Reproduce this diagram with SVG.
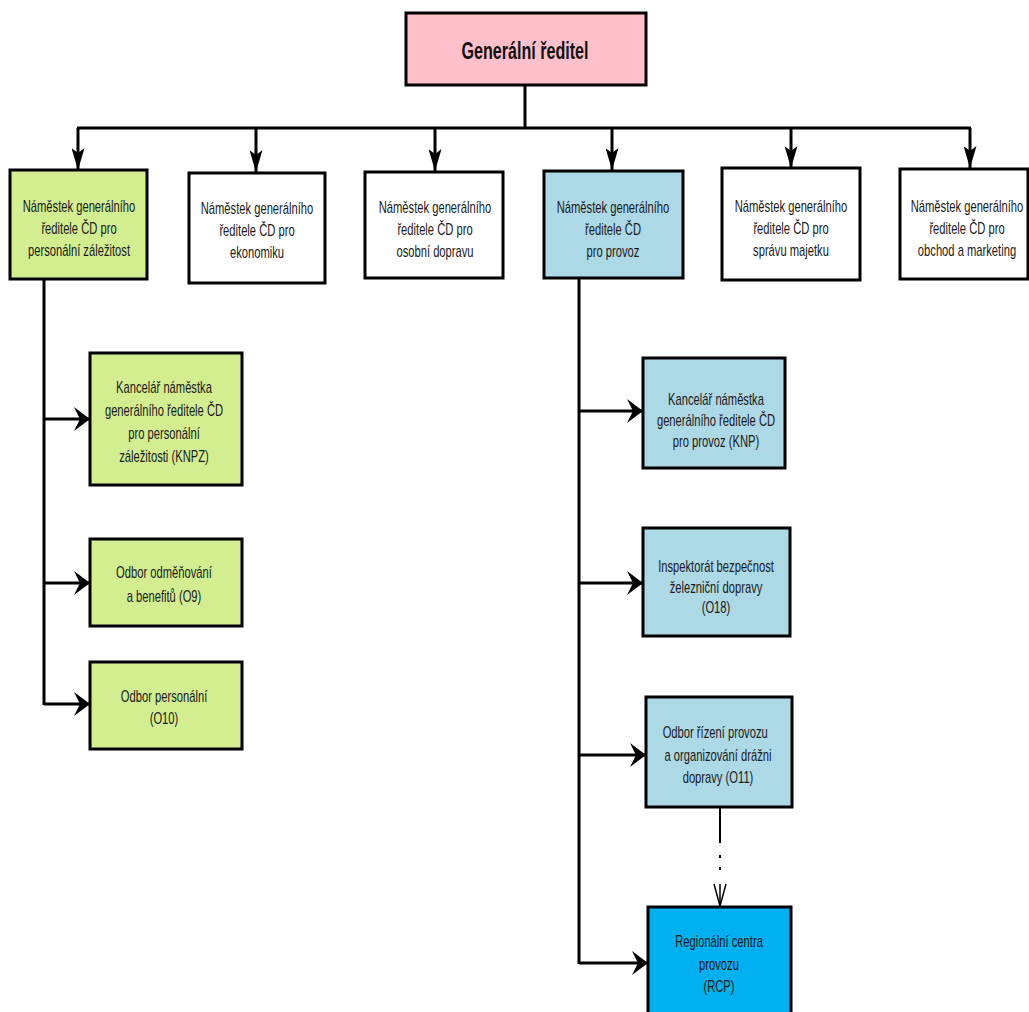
<svg xmlns="http://www.w3.org/2000/svg" width="1029" height="1012" viewBox="0 0 1029 1012">
<style>
.box{stroke:#000;stroke-width:3}
.w{fill:#ffffff}
.pk{fill:#ffc0cb}
.gr{fill:#d3ed91}
.lb{fill:#add8e6}
.bb{fill:#00b0f0}
.t{font-family:"Liberation Sans",Arial,sans-serif;font-size:16px;fill:#1a1a1a;text-anchor:middle}
.tb{font-family:"Liberation Sans",Arial,sans-serif;font-size:23px;font-weight:bold;fill:#111;text-anchor:middle}
.ln{stroke:#000;stroke-width:3;fill:none}
</style>
<defs>
<marker id="ah" markerUnits="userSpaceOnUse" viewBox="0 0 16 24" refX="16" refY="12" markerWidth="16" markerHeight="24" orient="auto">
<path d="M0,0 L16,12 L0,24 L6,12 z" fill="#000"/>
</marker>
<marker id="av" markerUnits="userSpaceOnUse" viewBox="0 0 22 13" refX="22" refY="6.5" markerWidth="22" markerHeight="13" orient="auto">
<path d="M0,0 L22,6.5 L0,13 L5,6.5 z" fill="#000"/>
</marker>
</defs>
<rect width="1029" height="1012" fill="#fff"/>

<g id="connectors">
<line class="ln" x1="525" y1="85" x2="525" y2="128"/>
<line class="ln" x1="77" y1="128" x2="971" y2="128"/>
<line class="ln" x1="78" y1="128" x2="78" y2="170" marker-end="url(#av)"/>
<line class="ln" x1="256" y1="128" x2="256" y2="172" marker-end="url(#av)"/>
<line class="ln" x1="435" y1="128" x2="435" y2="171" marker-end="url(#av)"/>
<line class="ln" x1="612" y1="128" x2="612" y2="170" marker-end="url(#av)"/>
<line class="ln" x1="791" y1="128" x2="791" y2="168" marker-end="url(#av)"/>
<line class="ln" x1="970" y1="128" x2="970" y2="168" marker-end="url(#av)"/>
<line class="ln" x1="44" y1="279" x2="44" y2="705"/>
<line class="ln" x1="44" y1="419" x2="90" y2="419" marker-end="url(#ah)"/>
<line class="ln" x1="44" y1="583" x2="90" y2="583" marker-end="url(#ah)"/>
<line class="ln" x1="44" y1="704" x2="90" y2="704" marker-end="url(#ah)"/>
<line class="ln" x1="579" y1="278" x2="579" y2="964"/>
<line class="ln" x1="579" y1="411" x2="643" y2="411" marker-end="url(#ah)"/>
<line class="ln" x1="579" y1="583" x2="643" y2="583" marker-end="url(#ah)"/>
<line class="ln" x1="579" y1="755" x2="646" y2="755" marker-end="url(#ah)"/>
<line class="ln" x1="579" y1="963" x2="648" y2="963" marker-end="url(#ah)"/>
<line x1="720" y1="807" x2="720" y2="843" stroke="#000" stroke-width="2"/>
<line x1="720" y1="855" x2="720" y2="872" stroke="#000" stroke-width="2" stroke-dasharray="3,9"/>
<line x1="720" y1="884" x2="720" y2="906" stroke="#000" stroke-width="1.5"/>
<polyline points="714,884 720,906 726,884" fill="none" stroke="#000" stroke-width="1.5"/>
</g>

<g id="n-gr">
<rect class="box pk" x="406" y="13" width="240" height="72"/>
<text class="tb" transform="translate(525,59) scale(0.7,1)">Generální ředitel</text>
</g>

<g id="n-personal">
<rect class="box gr" x="10" y="170" width="137" height="109"/>
<text class="t" transform="translate(79,212) scale(0.7,1)"><tspan x="0">Náměstek generálního</tspan><tspan x="0" dy="22">ředitele ČD pro</tspan><tspan x="0" dy="22">personální záležitost</tspan></text>
</g>

<g id="n-ekonomika">
<rect class="box w" x="189" y="173" width="136" height="110"/>
<text class="t" transform="translate(257,214) scale(0.7,1)"><tspan x="0">Náměstek generálního</tspan><tspan x="0" dy="22">ředitele ČD pro</tspan><tspan x="0" dy="22">ekonomiku</tspan></text>
</g>

<g id="n-osobni">
<rect class="box w" x="365" y="172" width="138" height="106"/>
<text class="t" transform="translate(435,213) scale(0.7,1)"><tspan x="0">Náměstek generálního</tspan><tspan x="0" dy="22">ředitele ČD pro</tspan><tspan x="0" dy="22">osobní dopravu</tspan></text>
</g>

<g id="n-provoz">
<rect class="box lb" x="544" y="171" width="139" height="107"/>
<text class="t" transform="translate(613,213) scale(0.7,1)"><tspan x="0">Náměstek generálního</tspan><tspan x="0" dy="22">ředitele ČD</tspan><tspan x="0" dy="22">pro provoz</tspan></text>
</g>

<g id="n-majetek">
<rect class="box w" x="722" y="168" width="138" height="112"/>
<text class="t" transform="translate(791,212) scale(0.7,1)"><tspan x="0">Náměstek generálního</tspan><tspan x="0" dy="22">ředitele ČD pro</tspan><tspan x="0" dy="22">správu majetku</tspan></text>
</g>

<g id="n-obchod">
<rect class="box w" x="900" y="169" width="128" height="110"/>
<text class="t" transform="translate(967,212) scale(0.7,1)"><tspan x="0">Náměstek generálního</tspan><tspan x="0" dy="22">ředitele ČD pro</tspan><tspan x="0" dy="22">obchod a marketing</tspan></text>
</g>

<g id="n-knpz">
<rect class="box gr" x="90" y="353" width="152" height="132"/>
<text class="t" transform="translate(164,393) scale(0.7,1)"><tspan x="0">Kancelář náměstka</tspan><tspan x="0" dy="23">generálního ředitele ČD</tspan><tspan x="0" dy="23">pro personální</tspan><tspan x="0" dy="23">záležitosti (KNPZ)</tspan></text>
</g>

<g id="n-o9">
<rect class="box gr" x="90" y="539" width="152" height="87"/>
<text class="t" transform="translate(164,578) scale(0.7,1)"><tspan x="0">Odbor odměňování</tspan><tspan x="0" dy="24">a benefitů (O9)</tspan></text>
</g>

<g id="n-o10">
<rect class="box gr" x="90" y="662" width="152" height="87"/>
<text class="t" transform="translate(164,702) scale(0.7,1)"><tspan x="0">Odbor personální</tspan><tspan x="0" dy="22">(O10)</tspan></text>
</g>

<g id="n-knp">
<rect class="box lb" x="643" y="358" width="142" height="110"/>
<text class="t" transform="translate(716,405) scale(0.7,1)"><tspan x="0">Kancelář náměstka</tspan><tspan x="0" dy="21">generálního ředitele ČD</tspan><tspan x="0" dy="21">pro provoz (KNP)</tspan></text>
</g>

<g id="n-o18">
<rect class="box lb" x="643" y="528" width="147" height="108"/>
<text class="t" transform="translate(716,572) scale(0.7,1)"><tspan x="0">Inspektorát bezpečnost</tspan><tspan x="0" dy="21">železniční dopravy</tspan><tspan x="0" dy="20">(O18)</tspan></text>
</g>

<g id="n-o11">
<rect class="box lb" x="646" y="697" width="146" height="110"/>
<text class="t" transform="translate(718,738) scale(0.7,1)"><tspan x="-4">Odbor řízení provozu</tspan><tspan x="0" dy="23">a organizování drážni</tspan><tspan x="0" dy="22">dopravy (O11)</tspan></text>
</g>

<g id="n-rcp">
<rect class="box bb" x="648" y="907" width="143" height="110"/>
<text class="t" transform="translate(719,947) scale(0.7,1)"><tspan x="0">Regionální centra</tspan><tspan x="0" dy="23">provozu</tspan><tspan x="0" dy="22">(RCP)</tspan></text>
</g>
</svg>
